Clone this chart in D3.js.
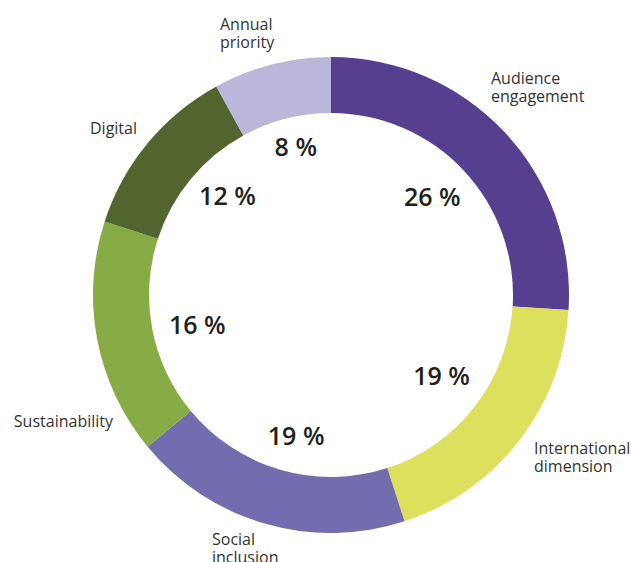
<!DOCTYPE html>
<html>
<head>
<meta charset="utf-8">
<script src="https://cdn.jsdelivr.net/npm/d3@7"></script>
<style>
  html, body { margin: 0; padding: 0; background: #fff; }
  svg { display: block; }
  .cat { font-family: "Open Sans", sans-serif; font-size: 16px; fill: #333333; }
  .pct { font-family: "Open Sans", sans-serif; font-size: 25px; font-weight: 600; fill: #231f20; }
</style>
</head>
<body>
<svg id="chart" width="631" height="562"></svg>
<script>
// Share of projects per priority (percent), clockwise from 12 o'clock
const categories = ["Audience engagement", "International dimension", "Social inclusion", "Sustainability", "Digital", "Annual priority"];
const values = [26, 19, 19, 16, 12, 8];
const colors = ["#563f8e", "#dce05c", "#716daf", "#87ab45", "#52652e", "#bab7db"];
const labelLines = [["Audience", "engagement"], ["International", "dimension"], ["Social", "inclusion"], ["Sustainability"], ["Digital"], ["Annual", "priority"]];

// Layout of the outer category labels: [x, first baseline y, anchor]
const labelLayout = [
  [491, 84, "start"],
  [534, 454, "start"],
  [212, 545, "start"],
  [113, 427, "end"],
  [137, 134, "end"],
  [220, 30, "start"]
];

// Placement of the percentage labels: [radius, angle nudge in degrees from the slice's mid-angle]
const pctLayout = [
  [141, -0.9],
  [137, -1.6],
  [145, -2.3],
  [137, -1.8],
  [143, 4.0],
  [152, 1.0]
];

const cx = 331, cy = 295, outerR = 238, innerR = 182, lineH = 18;

const svg = d3.select("#chart");
const g = svg.append("g").attr("transform", `translate(${cx},${cy})`);

const data = categories.map((c, i) => ({
  name: c, value: values[i], color: colors[i],
  lines: labelLines[i], layout: labelLayout[i], pct: pctLayout[i]
}));

const pie = d3.pie().sort(null).value(d => d.value).startAngle(0).endAngle(2 * Math.PI);
const arcs = pie(data);

const arc = d3.arc().innerRadius(innerR).outerRadius(outerR);

g.selectAll("path.slice")
  .data(arcs)
  .join("path")
  .attr("class", "slice")
  .attr("d", arc)
  .attr("fill", d => d.data.color);

// Percentage labels inside the ring
function pctPos(d) {
  const [r, nudge] = d.data.pct;
  const a = (d.startAngle + d.endAngle) / 2 + nudge * Math.PI / 180;
  return [r * Math.sin(a), -r * Math.cos(a)];
}

g.selectAll("text.pct")
  .data(arcs)
  .join("text")
  .attr("class", "pct")
  .attr("text-anchor", "middle")
  .attr("dy", "0.357em")
  .attr("transform", d => `translate(${pctPos(d)})`)
  .text(d => d.data.value + " %");

// Category labels outside the ring, one text element per line
const lineData = data.flatMap(d => d.lines.map((l, j) => ({
  text: l,
  x: d.layout[0],
  y: d.layout[1] + j * lineH,
  anchor: d.layout[2]
})));

svg.selectAll("text.cat")
  .data(lineData)
  .join("text")
  .attr("class", "cat")
  .attr("text-anchor", d => d.anchor)
  .attr("x", d => d.x)
  .attr("y", d => d.y)
  .text(d => d.text);
</script>
</body>
</html>
